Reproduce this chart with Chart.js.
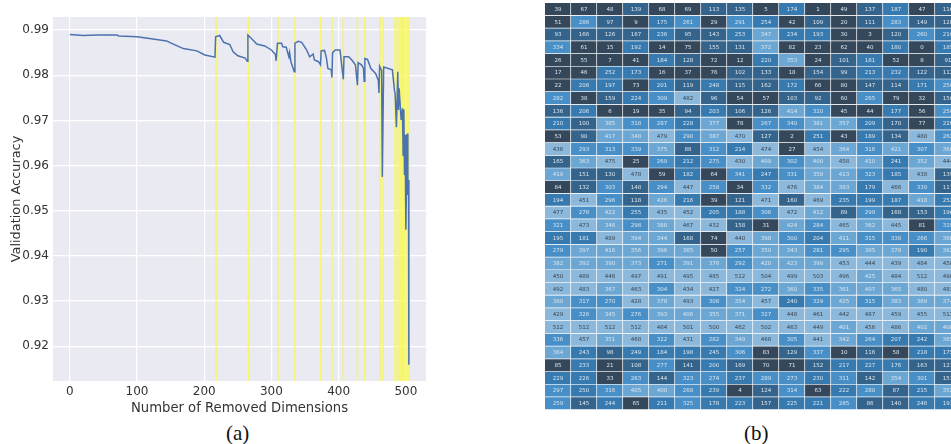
<!DOCTYPE html>
<html>
<head>
<meta charset="utf-8">
<script src="https://cdn.jsdelivr.net/npm/chart.js@4"></script>
<style>
    html, body { margin: 0; padding: 0; background: #fff; overflow: hidden; }
    body { width: 951px; height: 444px; position: relative; }
    .box { position: absolute; }
    canvas { filter: blur(0.4px); }
    .caption { position: absolute; top: 421px; font: 21px "Liberation Serif", serif; color: #111; }
</style>
</head>
<body>
<div class="box" style="left:0;top:0;width:440px;height:416px"><canvas id="accuracy-chart"></canvas></div>
<div class="box" style="left:545px;top:3px;width:406px;height:407px"><canvas id="heat-chart"></canvas></div>
<div class="caption" style="left:226px">(a)</div>
<div class="caption" style="left:744px">(b)</div>
<script>
// Left plot: accuracy curve
const removedDims = [0, 20, 40, 70, 73, 100, 129, 144, 154, 169, 189, 201, 216, 217, 223, 229, 238, 243, 250, 261, 264,
    265, 275, 278, 290, 300, 306, 307, 309, 315, 317, 322, 326, 327, 329, 334, 335, 340, 345, 352, 357, 362, 364, 370, 373,
    374, 379, 382, 384, 389, 390, 391, 395, 402, 404, 407, 408, 415, 419, 425, 428, 429, 434, 437, 438, 439, 443, 448, 455,
    459, 460, 461, 464, 465, 467, 480, 483, 484, 486, 488, 489, 490, 493, 495, 496, 497, 498, 499, 500, 501, 502, 503, 504, 504.5];
const accuracy = [0.9890, 0.9888, 0.9889, 0.9889, 0.9887, 0.9885, 0.9879, 0.9876, 0.9869, 0.9859, 0.9854, 0.9845, 0.9840, 0.9885, 0.9888, 0.9873, 0.9868, 0.9852, 0.9843, 0.9838, 0.9831,
    0.9889, 0.9874, 0.9869, 0.9865, 0.9856, 0.9846, 0.9832, 0.9871, 0.9871, 0.9863, 0.9862, 0.9841, 0.9850, 0.9830, 0.9808, 0.9871, 0.9875, 0.9873, 0.9857, 0.9841, 0.9847, 0.9834, 0.9830, 0.9823,
    0.9854, 0.9855, 0.9837, 0.9815, 0.9812, 0.9795, 0.9850, 0.9856, 0.9856, 0.9830, 0.9791, 0.9841, 0.9841, 0.9835, 0.9823, 0.9778, 0.9828, 0.9823, 0.9815, 0.9787, 0.9837, 0.9835, 0.9815, 0.9804,
    0.9789, 0.9761, 0.9820, 0.9810, 0.9575, 0.9818, 0.9812, 0.9767, 0.9760, 0.9685, 0.9808, 0.9723, 0.9771, 0.9701, 0.9727, 0.9623, 0.9724, 0.9579, 0.9668, 0.9458, 0.9564, 0.9671, 0.9535, 0.9568, 0.9159];
const highlightDims = [217.6, 265.5, 309.7, 335, 373.3, 390, 407, 428, 439, 461.5, 466, 484, 487, 490, 492.5, 495, 497.5, 500, 502.5, 505];
const xTicks = [0, 100, 200, 300, 400, 500];
const yTicks = [0.92, 0.93, 0.94, 0.95, 0.96, 0.97, 0.98, 0.99];

// Right plot: one array per row of the table
const tableRows = [
    [39, 67, 48, 139, 68, 69, 113, 135, 5, 174, 1, 49, 137, 187, 47, 116],
    [51, 286, 97, 9, 175, 261, 29, 291, 254, 42, 109, 20, 111, 283, 149, 120],
    [93, 166, 126, 167, 236, 95, 143, 253, 347, 234, 193, 30, 3, 120, 260, 216],
    [334, 61, 15, 192, 14, 75, 155, 131, 372, 82, 23, 62, 40, 180, 0, 185],
    [26, 55, 7, 41, 184, 128, 72, 12, 220, 353, 24, 101, 181, 52, 8, 91],
    [17, 46, 252, 173, 16, 37, 76, 102, 133, 18, 154, 99, 213, 232, 122, 112],
    [22, 208, 197, 73, 201, 119, 248, 115, 162, 172, 66, 80, 147, 114, 171, 256],
    [282, 38, 159, 224, 309, 482, 96, 54, 57, 103, 92, 60, 265, 79, 32, 156],
    [136, 206, 6, 19, 35, 94, 203, 106, 126, 414, 320, 45, 44, 177, 56, 256],
    [210, 100, 385, 318, 287, 228, 377, 78, 267, 340, 381, 357, 209, 170, 77, 220],
    [53, 90, 417, 348, 479, 290, 387, 470, 127, 2, 251, 43, 189, 134, 488, 262],
    [436, 293, 313, 339, 375, 88, 312, 214, 474, 27, 454, 364, 316, 421, 307, 366],
    [165, 363, 475, 25, 269, 212, 275, 430, 409, 302, 400, 458, 410, 241, 352, 444],
    [419, 151, 130, 478, 59, 182, 64, 341, 247, 331, 358, 413, 323, 185, 438, 139],
    [84, 132, 303, 148, 294, 447, 258, 34, 332, 476, 384, 383, 179, 466, 330, 117],
    [194, 451, 296, 118, 426, 216, 39, 121, 471, 160, 469, 235, 199, 187, 418, 252],
    [477, 278, 422, 255, 435, 452, 205, 188, 306, 472, 412, 89, 299, 168, 153, 196],
    [321, 473, 346, 298, 388, 467, 432, 158, 31, 424, 284, 465, 362, 445, 81, 319],
    [195, 181, 489, 394, 344, 168, 74, 440, 398, 300, 204, 411, 315, 338, 266, 368],
    [279, 397, 416, 356, 396, 365, 50, 257, 350, 343, 281, 295, 385, 378, 190, 362],
    [382, 392, 390, 373, 271, 391, 376, 292, 420, 423, 399, 453, 444, 439, 484, 458],
    [450, 489, 446, 497, 491, 495, 485, 512, 504, 499, 503, 496, 425, 484, 512, 490],
    [492, 483, 367, 463, 304, 434, 427, 324, 272, 360, 335, 361, 407, 365, 480, 481],
    [380, 317, 270, 428, 378, 493, 308, 354, 457, 240, 329, 425, 315, 383, 369, 374],
    [429, 326, 345, 276, 393, 406, 355, 371, 327, 448, 461, 442, 487, 459, 455, 512],
    [512, 512, 512, 512, 464, 501, 500, 462, 502, 463, 449, 401, 456, 486, 402, 408],
    [336, 457, 351, 468, 322, 431, 282, 349, 468, 305, 441, 342, 264, 207, 242, 365],
    [364, 243, 98, 249, 184, 198, 245, 306, 83, 129, 337, 10, 116, 58, 218, 175],
    [85, 233, 21, 108, 277, 141, 200, 169, 70, 71, 152, 217, 227, 176, 163, 121],
    [229, 226, 33, 263, 144, 323, 274, 237, 289, 273, 230, 311, 142, 354, 301, 151],
    [297, 250, 316, 405, 400, 268, 239, 4, 124, 314, 63, 222, 280, 87, 215, 352],
    [259, 145, 244, 65, 211, 325, 178, 223, 157, 225, 221, 285, 86, 140, 246, 191]
];
const heatBins = ['#35475a', '#34648c', '#377ab0', '#478fc6', '#6ca6d2', '#8cb9db'];
const heatMax = 512;

// Value to one of the six colour steps
function binOf(value) {
    return Math.min(heatBins.length - 1, Math.floor(value / (heatMax / heatBins.length)));
}

function renderAccuracyChart() {
    const lineData = removedDims.map((d, i) => ({ x: d, y: accuracy[i] }));

    // Vertical markers as one dataset, broken with gaps
    const yMin = 0.9123, yMax = 0.9929;
    const markerData = [];
    highlightDims.forEach(d => {
        markerData.push({ x: d, y: yMin }, { x: d, y: yMax }, { x: d, y: null });
    });

    new Chart(document.getElementById('accuracy-chart').getContext('2d'), {
        type: 'scatter',
        data: {
            datasets: [{
                data: lineData,
                showLine: true,
                borderColor: '#4c72b0',
                borderWidth: 1.5,
                pointRadius: 0,
                order: 1
            }, {
                data: markerData,
                showLine: true,
                spanGaps: false,
                borderColor: 'rgba(250, 250, 70, 0.75)',
                borderWidth: 1.6,
                pointRadius: 0,
                order: 2
            }]
        },
        options: {
            responsive: true,
            maintainAspectRatio: false,
            animation: false,
            layout: { padding: { top: 17, right: 14, left: 9 } },
            plugins: {
                legend: { display: false },
                tooltip: { enabled: false },
                plotBackground: { color: '#eaeaf2' }
            },
            scales: {
                x: {
                    type: 'linear',
                    min: -25,
                    max: 530,
                    afterBuildTicks: scale => { scale.ticks = xTicks.map(v => ({ value: v })); },
                    afterFit: scale => { scale.height = 35; },
                    grid: { color: '#ffffff', lineWidth: 1.2, drawTicks: false },
                    border: { display: false },
                    ticks: { color: '#333', padding: 4, maxRotation: 0, font: { family: 'DejaVu Sans', size: 12 } },
                    title: { display: true, text: 'Number of Removed Dimensions', color: '#333', padding: 0, font: { family: 'DejaVu Sans', size: 13.2 } }
                },
                y: {
                    min: yMin,
                    max: yMax,
                    afterBuildTicks: scale => { scale.ticks = yTicks.map(v => ({ value: v })); },
                    afterFit: scale => { scale.width = 44; },
                    grid: { color: '#ffffff', lineWidth: 1.2, drawTicks: false },
                    border: { display: false },
                    ticks: {
                        color: '#333',
                        padding: 4,
                        font: { family: 'DejaVu Sans', size: 12 },
                        callback: v => v.toFixed(2)
                    },
                    title: { display: true, text: 'Validation Accuracy', color: '#333', padding: 0, font: { family: 'DejaVu Sans', size: 12.9 } }
                }
            }
        },
        plugins: [{
            id: 'plotBackground',
            beforeDraw(chart, args, opts) {
                const { ctx, chartArea: a } = chart;
                ctx.save();
                ctx.fillStyle = opts.color;
                ctx.fillRect(a.left, a.top, a.right - a.left, a.bottom - a.top);
                ctx.restore();
            }
        }]
    });
}

function renderHeatChart() {
    const columnCount = tableRows[0].length;
    const datasets = [];
    for (let c = 0; c < columnCount; c++) {
        datasets.push({
            data: tableRows.map(() => 1),
            cellValues: tableRows.map(r => r[c]),
            backgroundColor: tableRows.map(r => heatBins[binOf(r[c])]),
            borderColor: 'rgba(255, 255, 255, 0.6)',
            borderWidth: { right: 1, bottom: 1 },
            borderSkipped: false,
            barPercentage: 1,
            categoryPercentage: 1
        });
    }

    new Chart(document.getElementById('heat-chart').getContext('2d'), {
        type: 'bar',
        data: { labels: tableRows.map((r, i) => i), datasets: datasets },
        options: {
            indexAxis: 'y',
            responsive: true,
            maintainAspectRatio: false,
            animation: false,
            plugins: { legend: { display: false }, tooltip: { enabled: false } },
            scales: {
                x: { type: 'linear', stacked: true, min: 0, max: 15.615, display: false },
                y: { stacked: true, display: false }
            }
        },
        plugins: [{
            id: 'cellLabels',
            afterDatasetsDraw(chart) {
                const ctx = chart.ctx;
                ctx.save();
                ctx.font = '5.5px "DejaVu Sans"';
                ctx.textAlign = 'center';
                ctx.textBaseline = 'middle';
                chart.data.datasets.forEach((ds, i) => {
                    chart.getDatasetMeta(i).data.forEach((bar, j) => {
                        const value = ds.cellValues[j];
                        const p = bar.getCenterPoint();
                        ctx.fillStyle = binOf(value) === heatBins.length - 1 ? '#38434f' : '#dbe6ef';
                        ctx.fillText(String(value), p.x, p.y);
                    });
                });
                ctx.restore();
            }
        }]
    });
}

renderAccuracyChart();
renderHeatChart();
</script>
</body>
</html>
